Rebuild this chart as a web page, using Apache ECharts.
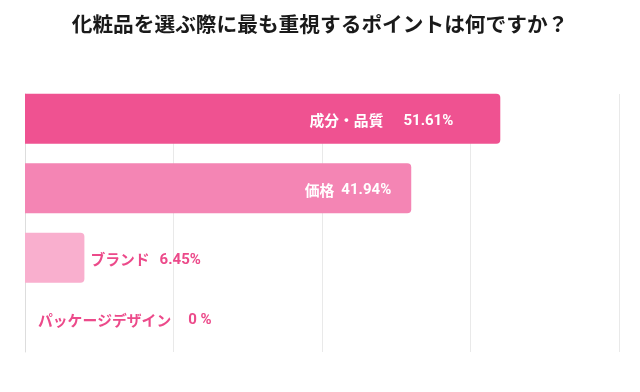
<!DOCTYPE html>
<html>
<head>
<meta charset="utf-8">
<script src="https://cdn.jsdelivr.net/npm/echarts@6/dist/echarts.min.js"></script>
<style>
html,body{margin:0;padding:0;background:#fff;}
#chart{width:640px;height:392px;}
</style>
</head>
<body>
<div id="chart"></div>
<script>
const titleText = '化粧品を選ぶ際に最も重視するポイントは何ですか？';
const categories = ['成分・品質', '価格', 'ブランド', 'パッケージデザイン'];
const values = [51.61, 41.94, 6.45, 0];
const valueLabels = ['51.61%', '41.94%', '6.45%', '0 %'];

const FONT = '"Noto Sans CJK JP", "Noto Sans", sans-serif';
const NUM_FONT = 'Roboto, "Noto Sans CJK JP", sans-serif';
const barColors = ['#EF5291', '#F485B4', '#F9AFCE', '#F9AFCE'];
const PINK = '#EC4A8A';
const AX_MAX = 64.5;
const AX_INT = AX_MAX / 4;

const labelStyles = [
  {position: 'insideRight', distance: 47, color: '#fff', gap: 20, offset: [0, 2]},
  {position: 'insideRight', distance: 20, color: '#fff', gap: 7, offset: [0, 2]},
  {position: 'right', distance: 6, color: PINK, gap: 10, offset: [0, 2]},
  {position: 'right', distance: 13, color: PINK, gap: 17, offset: [0, -7]}
];

const seriesData = values.map((v, i) => {
  const s = labelStyles[i];
  return {
    value: v,
    itemStyle: {color: barColors[i]},
    label: {
      show: true,
      position: s.position,
      distance: s.distance,
      offset: s.offset,
      formatter: '{n|' + categories[i] + '}{v|' + valueLabels[i] + '}',
      rich: {
        n: {color: s.color, fontSize: 14.8, fontWeight: 'bold', fontFamily: FONT},
        v: {color: s.color, fontSize: 15, fontWeight: 'bold', fontFamily: NUM_FONT, padding: [0, 0, 0, s.gap]}
      }
    }
  };
});

const chart = echarts.init(document.getElementById('chart'), null, {renderer: 'canvas'});
chart.setOption({
  backgroundColor: '#ffffff',
  animation: false,
  title: {
    text: titleText,
    left: 'center',
    top: 9,
    textStyle: {fontSize: 20.7, fontWeight: 'bold', color: '#1a1a1a', fontFamily: FONT}
  },
  grid: [
    {left: 25, right: 21, top: 84, bottom: 30, containLabel: false},
    {left: 25, right: 21, top: 94, bottom: 40, containLabel: false}
  ],
  xAxis: [
    {
      gridIndex: 0, type: 'value', min: 0, max: AX_MAX, interval: AX_INT,
      axisLabel: {show: false}, axisLine: {show: false}, axisTick: {show: false},
      splitLine: {show: false}
    },
    {
      gridIndex: 1, type: 'value', min: 0, max: AX_MAX, interval: AX_INT,
      axisLabel: {show: false}, axisLine: {show: false}, axisTick: {show: false},
      splitLine: {show: true, lineStyle: {color: '#e9e9e9', width: 1}}
    }
  ],
  yAxis: [
    {
      gridIndex: 0, type: 'category', data: categories, inverse: true,
      axisLabel: {show: false}, axisLine: {show: false}, axisTick: {show: false}
    },
    {
      gridIndex: 1, type: 'category', data: categories, inverse: true, z: 1,
      axisLabel: {show: false}, axisTick: {show: false},
      axisLine: {show: true, lineStyle: {color: '#dddddd', width: 1}}
    }
  ],
  series: [
    {
      type: 'bar',
      xAxisIndex: 0, yAxisIndex: 0,
      data: seriesData,
      barWidth: 50,
      z: 3,
      itemStyle: {borderRadius: [0, 4, 4, 0]}
    }
  ]
});
</script>
</body>
</html>
